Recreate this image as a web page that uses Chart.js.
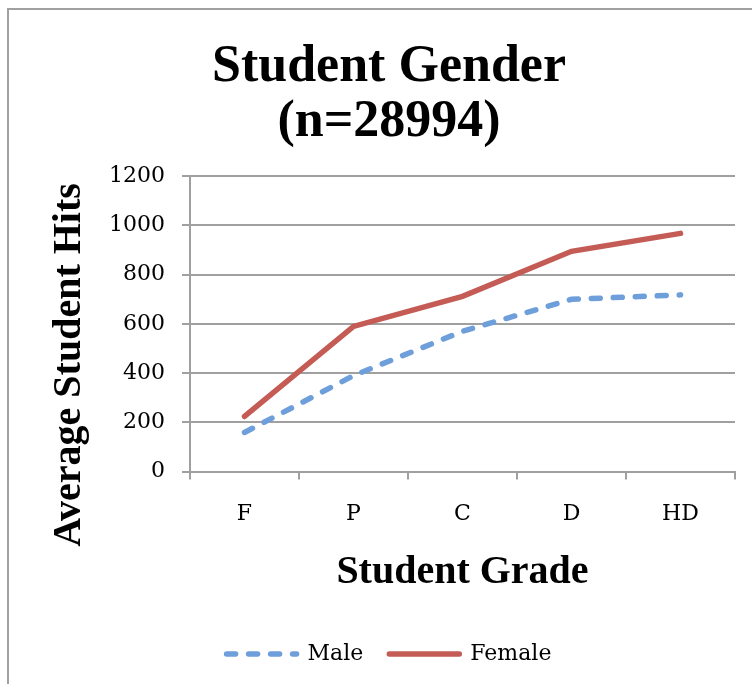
<!DOCTYPE html>
<html lang="en">
<head>
    <meta charset="UTF-8">
    <title>Student Gender</title>
    <style>
        html, body { margin: 0; padding: 0; background: #fff; }
        #wrap { width: 753px; height: 684px; position: relative; }
    </style>
</head>
<body>
    <div id="wrap"><canvas id="lineChart" width="753" height="684"></canvas></div>

    <script src="https://cdn.jsdelivr.net/npm/chart.js"></script>

    <script>
        const grades = ["F", "P", "C", "D", "HD"];
        const maleHits = [159, 390, 570, 700, 718];
        const femaleHits = [224, 590, 712, 895, 968];
        const yTicks = [0, 200, 400, 600, 800, 1000, 1200];

        const TITLE_LINES = ["Student Gender", "(n=28994)"];
        const Y_TITLE = "Average Student Hits";
        const X_TITLE = "Student Grade";

        const GRID = "#a0a0a0";
        const SERIF = "'DejaVu Serif', serif";
        const BOLD_SERIF = "'Liberation Serif', 'Times New Roman', serif";

        // frame (top + left edge) and the y axis title, which sits lower than the plot centre
        const framePlugin = {
            id: "frame",
            beforeDraw(chart) {
                const c = chart.ctx;
                c.save();
                c.strokeStyle = GRID;
                c.lineWidth = 2;
                c.beginPath();
                c.moveTo(8, 684);
                c.lineTo(8, 9);
                c.lineTo(752, 9);
                c.stroke();
                c.restore();
            },
            afterDraw(chart) {
                const c = chart.ctx;
                c.save();
                c.translate(80, 365);
                c.rotate(-Math.PI / 2);
                c.font = "bold 40px " + BOLD_SERIF;
                c.fillStyle = "#000";
                c.textAlign = "center";
                c.textBaseline = "alphabetic";
                c.fillText(Y_TITLE, 0, 0);
                c.restore();
            }
        };

        var ctx = document.getElementById('lineChart').getContext('2d');

        var lineChart = new Chart(ctx, {
            type: 'line',
            data: {
                labels: grades,
                datasets: [{
                    label: 'Male',
                    data: maleHits,
                    borderColor: '#6f9fdb',
                    backgroundColor: '#6f9fdb',
                    borderWidth: 5.5,
                    borderDash: [9, 13],
                    borderCapStyle: 'round',
                    pointRadius: 0,
                    tension: 0,
                    fill: false
                },
                {
                    label: 'Female',
                    data: femaleHits,
                    borderColor: '#c45c55',
                    backgroundColor: '#c45c55',
                    borderWidth: 5.5,
                    borderCapStyle: 'round',
                    pointRadius: 0,
                    tension: 0,
                    fill: false
                }]
            },
            options: {
                responsive: false,
                animation: false,
                layout: {
                    padding: { left: 43, right: 18, top: 0, bottom: 9 }
                },
                plugins: {
                    title: {
                        display: true,
                        text: TITLE_LINES,
                        color: '#000',
                        font: { family: BOLD_SERIF, size: 52, weight: 'bold', lineHeight: 1.06 },
                        padding: { top: 40, bottom: 26 }
                    },
                    legend: {
                        position: 'bottom',
                        labels: {
                            usePointStyle: true,
                            pointStyle: 'line',
                            pointStyleWidth: 70,
                            color: '#000',
                            font: { family: SERIF, size: 22 },
                            padding: 26,
                            // point-style legend items lose the dataset dash, put it back
                            generateLabels(chart) {
                                const items = Chart.defaults.plugins.legend.labels.generateLabels(chart);
                                items.forEach(item => {
                                    const ds = chart.data.datasets[item.datasetIndex];
                                    item.lineDash = ds.borderDash || [];
                                    item.lineCap = 'round';
                                    item.lineWidth = 5.5;
                                    item.strokeStyle = ds.borderColor;
                                });
                                return items;
                            }
                        }
                    },
                    tooltip: { enabled: false }
                },
                scales: {
                    x: {
                        offset: true,
                        grid: {
                            offset: true,
                            drawOnChartArea: false,
                            color: GRID,
                            lineWidth: 2,
                            tickLength: 8
                        },
                        border: { color: GRID, width: 2 },
                        ticks: {
                            color: '#000',
                            padding: 21,
                            font: { family: SERIF, size: 22 }
                        },
                        title: {
                            display: true,
                            text: X_TITLE,
                            color: '#000',
                            font: { family: BOLD_SERIF, size: 40, weight: 'bold' },
                            padding: { top: 1, bottom: 20 }
                        }
                    },
                    y: {
                        min: 0,
                        max: 1200,
                        afterBuildTicks(scale) {
                            scale.ticks = yTicks.map(v => ({ value: v }));
                        },
                        afterFit(scale) {
                            scale.width = 147;
                        },
                        grid: {
                            color: GRID,
                            lineWidth: 2,
                            tickLength: 8
                        },
                        border: { color: GRID, width: 2 },
                        ticks: {
                            color: '#000',
                            padding: 17,
                            font: { family: SERIF, size: 22 },
                            callback: v => String(v)
                        }
                    }
                }
            },
            plugins: [framePlugin]
        });
    </script>
</body>
</html>
